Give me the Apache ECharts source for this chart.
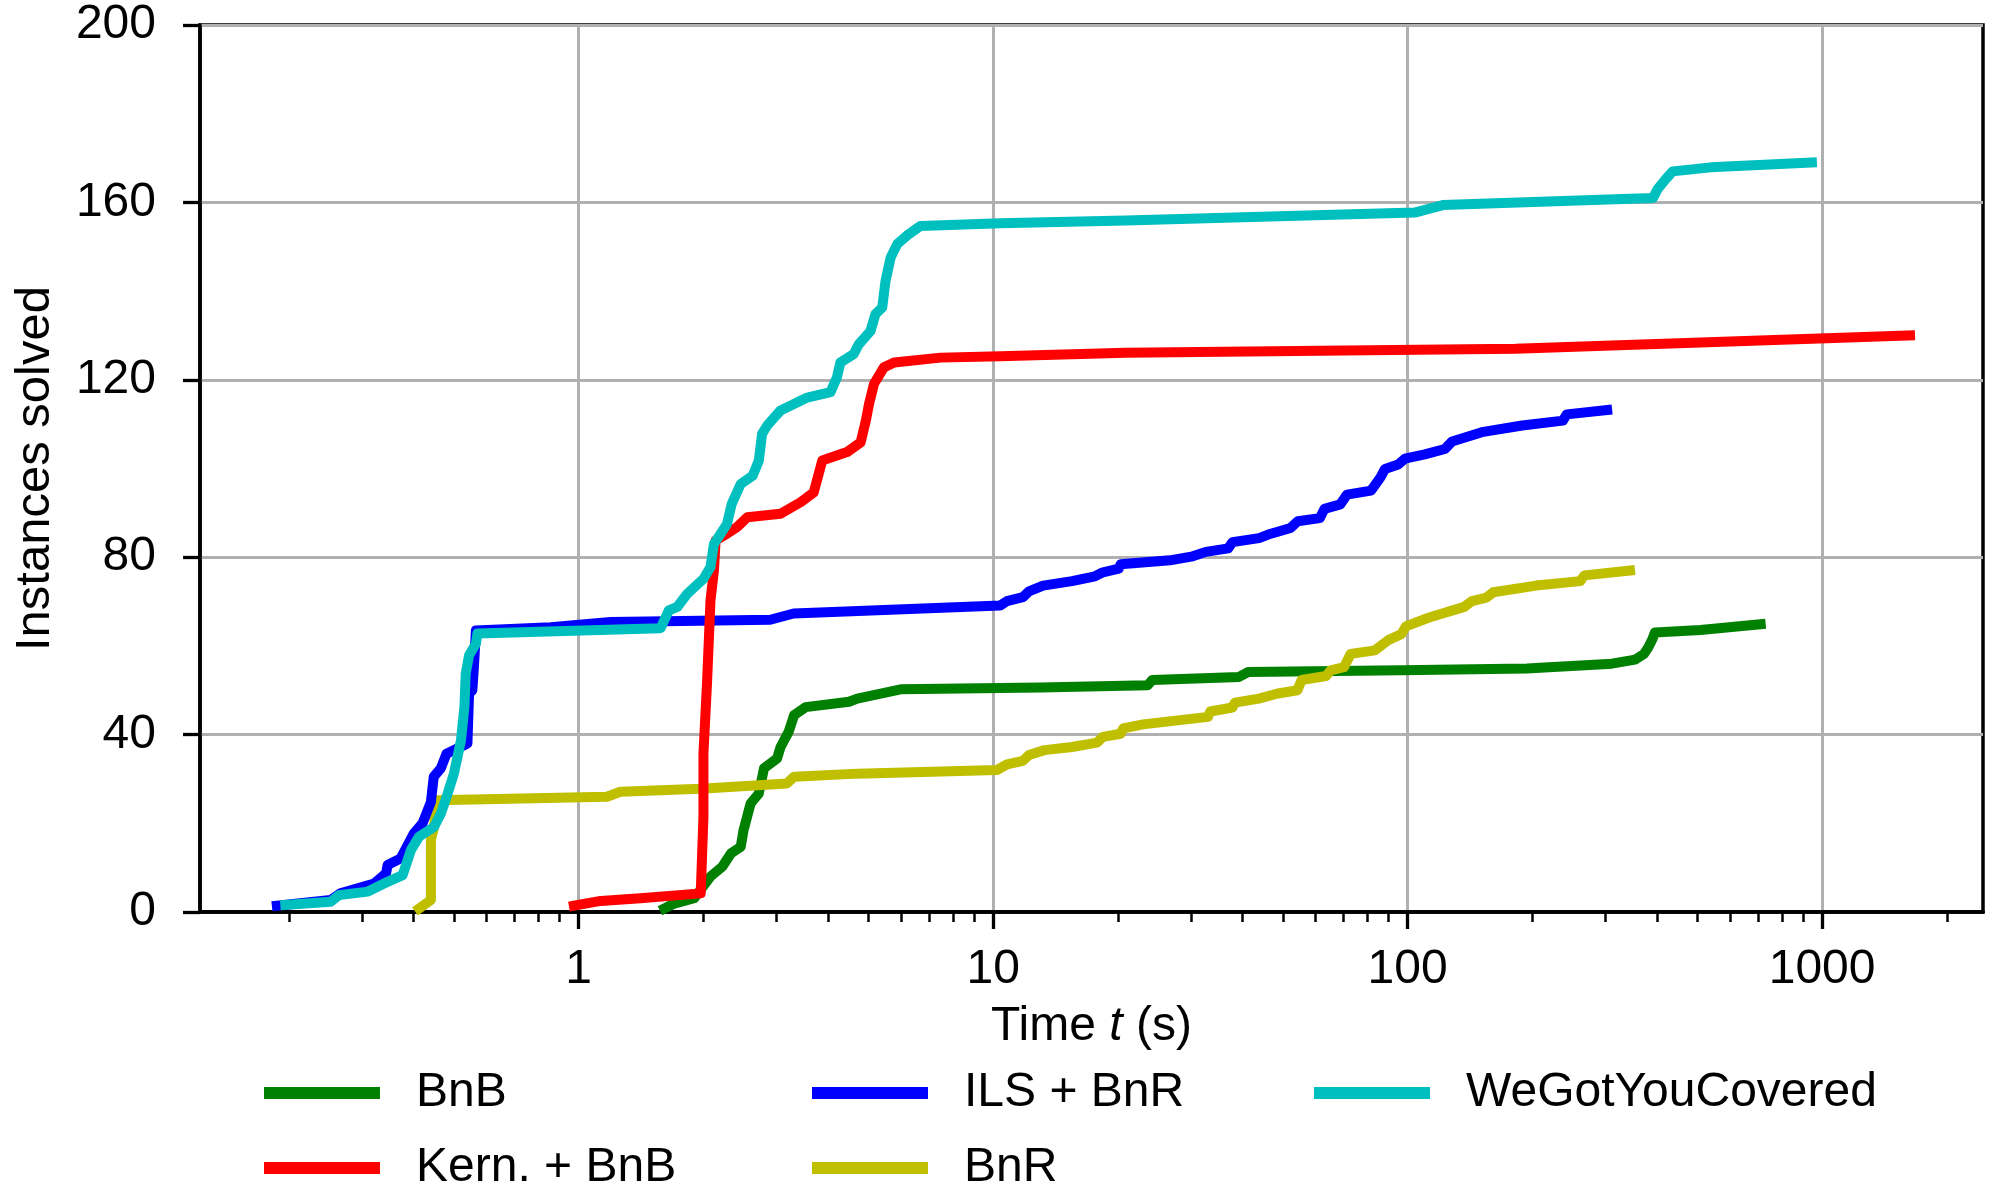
<!DOCTYPE html>
<html>
<head>
<meta charset="utf-8">
<script src="https://cdn.jsdelivr.net/npm/echarts@6/dist/echarts.min.js"></script>
<style>
html,body{margin:0;padding:0;background:#fff;}
#c{width:2000px;height:1190px;}
</style>
</head>
<body>
<div id="c"></div>
<script>
// ---- data: [time (s), instances solved] ----
const bnb = [[1.61,0.8],[1.7,1.9],[1.9,3.1],[2.08,8],[2.22,10.2],[2.33,13.2],[2.46,14.7],[2.5,18.5],[2.6,24.5],[2.72,26.7],[2.8,32.4],[3.01,34.6],[3.07,37.2],[3.21,40.6],[3.31,44.4],[3.53,46.2],[4.49,47.4],[4.7,48.1],[5.98,50.2],[13,50.6],[23.6,51.1],[24.2,52.3],[39.2,53],[41.2,54.1],[96.7,54.5],[194,54.9],[311,56],[354,56.9],[372,58.2],[381,59.7],[390,61.6],[395,63],[509,63.6],[711,64.9]];
const kern = [[0.974,1.4],[1.13,2.5],[1.41,3.1],[1.97,4.2],[2.0,21.4],[2.0,35.7],[2.04,51.5],[2.08,70.3],[2.12,77],[2.14,83.8],[2.28,85.3],[2.41,86.8],[2.55,89],[3.07,89.8],[3.43,92.4],[3.69,94.6],[3.87,101.8],[4.44,103.7],[4.79,105.9],[4.93,110.8],[5.02,114.6],[5.16,119.1],[5.45,122.8],[5.77,123.9],[7.47,125],[10.4,125.3],[20.9,126.1],[182,127],[1630,130]];
const ils = [[0.187,1.4],[0.252,2.7],[0.266,4.2],[0.321,6.4],[0.343,8.7],[0.346,10.6],[0.372,12.1],[0.4,17.7],[0.42,20],[0.44,24.8],[0.447,30.5],[0.465,32.4],[0.48,35.7],[0.539,38],[0.544,49.3],[0.554,50],[0.56,56.8],[0.565,63.5],[0.856,64.2],[1.195,65.4],[2.9,65.9],[3.3,67.3],[10.4,69.1],[10.8,70.1],[11.8,71],[12.2,72.3],[13.2,73.6],[15.5,74.6],[17.6,75.7],[18.4,76.6],[20.1,77.4],[20.3,78.4],[26.7,79.3],[30.3,80.2],[32.6,81.2],[36.9,82],[37.8,83.4],[43.8,84.3],[46.1,85.1],[52.2,86.6],[54.3,88.1],[61.4,88.8],[63,90.9],[68.8,91.9],[71.4,94.1],[81.6,95],[86,98],[88.2,99.9],[94.9,100.9],[98.5,102.2],[110,103.2],[123,104.4],[128,106.1],[140,107.2],[151,108.2],[189,109.7],[237,110.8],[242,112.2],[303,113.2]];
const bnr = [[0.412,0.8],[0.44,2.7],[0.44,16.2],[0.448,19.2],[0.452,25.2],[1.17,26],[1.26,27.1],[1.97,27.8],[3.18,29],[3.31,30.5],[4.7,31.2],[10.2,32],[10.8,33.3],[11.8,34.1],[12.2,35.4],[13.3,36.5],[15.5,37.2],[17.8,38.2],[18.4,39.5],[20.3,40.2],[20.6,41.4],[23,42.3],[33,44],[33.4,45.2],[37.8,46.1],[38.3,47.2],[43.8,48.1],[48.3,49.2],[54.2,50],[55.5,52.3],[63.6,53.2],[65.2,54.5],[70.2,55.2],[72.9,58.2],[83.4,59],[89.8,61.3],[96.7,62.7],[99,64.4],[112.7,66.4],[137,68.8],[143,70.1],[155,70.9],[161,72.1],[204,73.6],[261,74.6],[267,75.9],[344,77]];
const wgyc = [[0.196,1.6],[0.252,2.3],[0.264,3.8],[0.31,4.6],[0.346,6.8],[0.376,8.3],[0.394,14],[0.412,17],[0.448,19.2],[0.465,22.2],[0.483,26.7],[0.5,31.2],[0.52,38.7],[0.53,46.2],[0.534,53.8],[0.544,57.9],[0.565,60.5],[0.57,62.8],[1.577,64],[1.65,68],[1.73,68.8],[1.83,71.8],[2.0,75.1],[2.08,77.8],[2.12,83],[2.28,87.5],[2.34,92],[2.46,96.5],[2.63,98.4],[2.72,101.8],[2.77,107.8],[2.85,109.7],[3.07,113.1],[3.56,116],[4.05,117.2],[4.2,120.6],[4.28,123.9],[4.61,125.8],[4.74,128],[5.06,131],[5.2,134.8],[5.4,136.3],[5.5,142.3],[5.66,147.6],[5.87,150.6],[6.25,152.8],[6.68,154.7],[10.4,155.3],[20.9,155.9],[104,157.7],[121.6,159.4],[391,161],[401,163],[419,165.2],[436,167],[539,167.9],[945,169]];

const seriesNames = ['BnB', 'Kern. + BnB', 'ILS + BnR', 'BnR', 'WeGotYouCovered'];
const majorTicks = [1, 10, 100, 1000];
const minorTicks = [0.2,0.3,0.4,0.5,0.6,0.7,0.8,0.9,2,3,4,5,6,7,8,9,20,30,40,50,60,70,80,90,200,300,400,500,600,700,800,900,2000];
const yTicks = [0, 40, 80, 120, 160, 200];

const FONT = "'Liberation Sans', Arial, Helvetica, sans-serif";
const FS = 48;
const colors = {'BnB':'#008000','Kern. + BnB':'#ff0000','ILS + BnR':'#0000ff','BnR':'#bfbf00','WeGotYouCovered':'#00bfbf'};
const dataMap = {'BnB':bnb,'Kern. + BnB':kern,'ILS + BnR':ils,'BnR':bnr,'WeGotYouCovered':wgyc};
const drawOrder = ['BnB','BnR','ILS + BnR','Kern. + BnB','WeGotYouCovered'];

const chart = echarts.init(document.getElementById('c'), null, {renderer:'canvas'});

function mkLegend(name, left, cy){
  return {
    data:[name], left: left, top: cy - 25, orient:'horizontal',
    icon:'rect', itemWidth:116, itemHeight:12, itemGap:0,
    selectedMode:false,
    textStyle:{fontFamily:FONT, fontSize:FS, color:'#000', lineHeight:50, padding:[0,0,0,31]}
  };
}

const option = {
  backgroundColor:'#fff',
  animation:false,
  grid:{left:200, top:25, width:1783, height:887, show:true, borderColor:'#000', borderWidth:3.5, backgroundColor:'transparent', containLabel:false},
  xAxis:[{
    type:'log', logBase:10, min:0.122, max:2445,
    name:'{a|Time }{b|t}{a| (s)}', nameLocation:'middle', nameGap:91,
    nameTextStyle:{rich:{a:{fontFamily:FONT,fontSize:FS,color:'#000'}, b:{fontFamily:FONT,fontSize:FS,fontStyle:'italic',color:'#000'}}},
    axisLine:{show:true, lineStyle:{color:'#000', width:3.5}},
    axisTick:{show:true, length:17, lineStyle:{color:'#000', width:3.3}, customValues: majorTicks},
    axisLabel:{show:true, margin:34, fontFamily:FONT, fontSize:FS, color:'#000', customValues: majorTicks, formatter: v => String(v)},
    splitLine:{show:true, lineStyle:{color:'#b0b0b0', width:3}},
    minorTick:{show:false}
  },{
    type:'log', logBase:10, min:0.122, max:2445, position:'bottom', z:3,
    axisLine:{show:true, lineStyle:{color:'#000', width:3.5}},
    axisTick:{show:true, length:10, lineStyle:{color:'#000', width:2.5}, customValues: minorTicks},
    axisLabel:{show:false},
    splitLine:{show:false}
  }],
  yAxis:{
    type:'value', min:0, max:200, interval:40,
    name:'Instances solved', nameLocation:'middle', nameGap:140,
    nameTextStyle:{fontFamily:FONT, fontSize:49, color:'#000'},
    axisLine:{show:true, lineStyle:{color:'#000', width:3.5}},
    axisTick:{show:true, length:17, lineStyle:{color:'#000', width:3.3}},
    axisLabel:{margin:44, fontFamily:FONT, fontSize:FS, color:'#000'},
    splitLine:{show:true, lineStyle:{color:'#b0b0b0', width:3}}
  },
  legend:[
    mkLegend('BnB', 259, 1088),
    mkLegend('Kern. + BnB', 259, 1163),
    mkLegend('ILS + BnR', 807, 1088),
    mkLegend('BnR', 807, 1163),
    mkLegend('WeGotYouCovered', 1309, 1088)
  ],
  series: drawOrder.map(n => ({
    name:n, type:'line', xAxisIndex:0, yAxisIndex:0,
    data: dataMap[n], showSymbol:false, symbol:'none', clip:true,
    color: colors[n],
    lineStyle:{color:colors[n], width:10, cap:'square', join:'round'},
    itemStyle:{color:colors[n]},
    emphasis:{disabled:true}
  }))
};
chart.setOption(option);
</script>
</body>
</html>
